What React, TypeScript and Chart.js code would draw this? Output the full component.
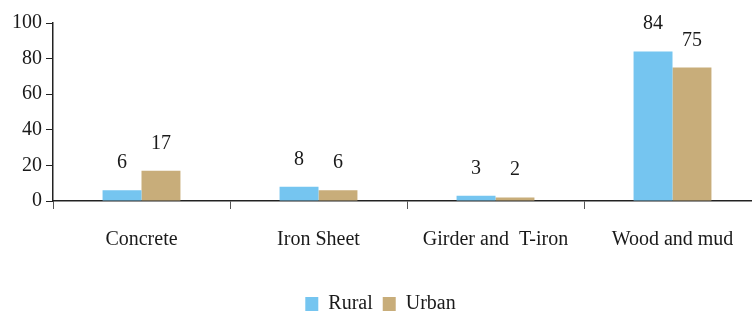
import React, { useEffect, useRef } from "react";
import { Chart, registerables } from "chart.js";

Chart.register(...registerables);

const categories = ["Concrete", "Iron Sheet", "Girder and  T-iron", "Wood and mud"];
const ruralValues = [6, 8, 3, 84];
const urbanValues = [17, 6, 2, 75];
const yTicks = [0, 20, 40, 60, 80, 100];

const FONT = "'Liberation Serif', 'DejaVu Serif', serif";
const TEXT = "#1a1a1a";

const labelPlugin = {
  id: "valueLabels",
  afterDatasetsDraw(chart: any) {
    const ctx = chart.ctx;
    ctx.save();
    ctx.font = `20px ${FONT}`;
    ctx.fillStyle = TEXT;
    ctx.textAlign = "center";
    ctx.textBaseline = "alphabetic";
    chart.data.datasets.forEach((ds: any, i: number) => {
      const meta = chart.getDatasetMeta(i);
      meta.data.forEach((el: any, j: number) => {
        ctx.fillText(String(ds.data[j]), el.x, el.y - 22);
      });
    });
    ctx.restore();
  },
};

export default function App() {
  const ref = useRef<HTMLCanvasElement>(null);
  useEffect(() => {
    document.body.style.overflow = "hidden";
    const chart = new Chart(ref.current!, {
      type: "bar",
      data: {
        labels: categories,
        datasets: [
          { label: "Rural", data: ruralValues, backgroundColor: "#75C5F0" },
          { label: "Urban", data: urbanValues, backgroundColor: "#C8AD7A" },
        ],
      },
      options: {
        animation: false,
        responsive: false,
        layout: { padding: { top: 23, right: 39, left: 0, bottom: -10 } },
        datasets: { bar: { categoryPercentage: 0.44, barPercentage: 1 } },
        plugins: {
          legend: {
            position: "bottom",
            labels: {
              font: { family: FONT, size: 20 },
              color: TEXT,
              boxWidth: 13,
              boxHeight: 14,
              padding: 10,
            },
          },
          tooltip: { enabled: false },
        },
        scales: {
          x: {
            grid: { drawOnChartArea: false, tickLength: 8, color: "#555", offset: true },
            border: { color: "#222", width: 1.5 },
            ticks: { font: { family: FONT, size: 20 }, color: TEXT, padding: 19 },
            afterFit: (s: any) => { s.height = 83; },
          },
          y: {
            min: 0,
            max: 100,
            afterBuildTicks: (s: any) => { s.ticks = yTicks.map((v) => ({ value: v })); },
            grid: { drawOnChartArea: false, tickLength: 7, color: "#222" },
            border: { color: "#222", width: 1.5 },
            ticks: { font: { family: FONT, size: 20 }, color: TEXT, padding: 4 },
            afterFit: (s: any) => { s.width = 53; },
          },
        },
      },
      plugins: [labelPlugin],
    });
    return () => chart.destroy();
  }, []);
  return (
    <div style={{ position: "absolute", left: 0, top: 0, width: 800, height: 314 }}>
      <canvas ref={ref} width={800} height={314} style={{ width: 800, height: 314 }} />
    </div>
  );
}
